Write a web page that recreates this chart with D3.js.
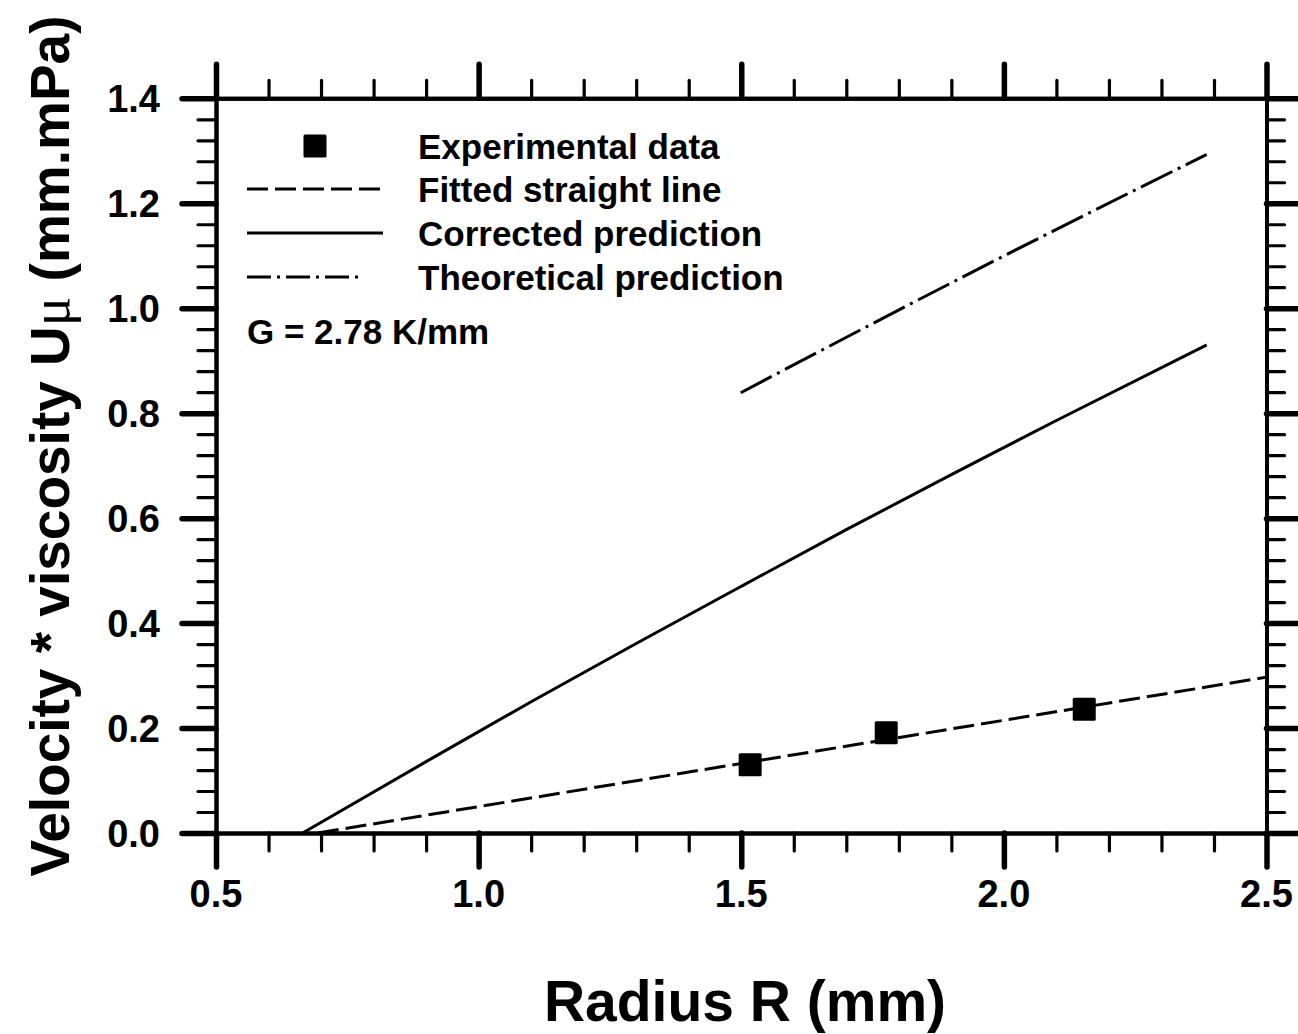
<!DOCTYPE html>
<html>
<head>
<meta charset="utf-8">
<script src="https://cdn.jsdelivr.net/npm/d3@7"></script>
<style>
  html, body { margin: 0; padding: 0; background: #fff; }
  svg { display: block; }
  text { font-family: "Liberation Sans", Arial, sans-serif; font-weight: bold; fill: #000; }
</style>
</head>
<body>
<svg id="chart" width="1298" height="1034"></svg>
<script>
// Radius values (mm) and velocity*viscosity values (mm.mPa)
const expR = [1.517, 1.776, 2.153];
const expU = [0.130, 0.191, 0.236];

const fitR = [0.694, 2.5];
const fitU = [0.0, 0.297];

const corrR = [0.665, 0.9, 1.1, 1.3, 1.5, 1.7, 1.9, 2.1, 2.386];
const corrU = [0.0, 0.136, 0.250, 0.361, 0.470, 0.578, 0.683, 0.786, 0.930];

const theoR = [1.499, 1.991, 2.386];
const theoU = [0.839, 1.095, 1.293];

const xTicks = [0.5, 1.0, 1.5, 2.0, 2.5];
const xTickLabels = ["0.5", "1.0", "1.5", "2.0", "2.5"];
const yTicks = [0.0, 0.2, 0.4, 0.6, 0.8, 1.0, 1.2, 1.4];
const yTickLabels = ["0.0", "0.2", "0.4", "0.6", "0.8", "1.0", "1.2", "1.4"];

const legendLabels = ["Experimental data", "Fitted straight line", "Corrected prediction", "Theoretical prediction"];
const noteText = "G = 2.78 K/mm";

const svg = d3.select("#chart");
const L = 216, R = 1266.5, T = 98.3, B = 833;

const x = d3.scaleLinear().domain([0.5, 2.5]).range([L, R]);
const y = d3.scaleLinear().domain([0, 1.4]).range([B, T]);

const xMinor = d3.range(0.5, 2.5001, 0.1).map(v => +v.toFixed(2));
const yMinor = d3.range(0, 1.4001, 0.04).map(v => +v.toFixed(2));

const MAJ = 34, MIN = 18;

function styleAxis(g, w) {
  g.selectAll("text").remove();
  g.select(".domain").attr("stroke", "#000").attr("stroke-width", 4);
  g.selectAll(".tick line").attr("stroke", "#000").attr("stroke-width", w).attr("stroke-linecap", "round");
}

// minor ticks on all four sides
svg.append("g").attr("transform", `translate(0,${B})`)
  .call(d3.axisBottom(x).tickValues(xMinor).tickSize(MIN).tickSizeOuter(0)).call(g => styleAxis(g, 3.2));
svg.append("g").attr("transform", `translate(0,${T})`)
  .call(d3.axisTop(x).tickValues(xMinor).tickSize(MIN).tickSizeOuter(0)).call(g => styleAxis(g, 3.2));
svg.append("g").attr("transform", `translate(${L},0)`)
  .call(d3.axisLeft(y).tickValues(yMinor).tickSize(MIN).tickSizeOuter(0)).call(g => styleAxis(g, 3.2));
svg.append("g").attr("transform", `translate(${R},0)`)
  .call(d3.axisRight(y).tickValues(yMinor).tickSize(MIN).tickSizeOuter(0)).call(g => styleAxis(g, 3.2));

// major ticks on all four sides
svg.append("g").attr("transform", `translate(0,${B})`)
  .call(d3.axisBottom(x).tickValues(xTicks).tickSize(MAJ).tickSizeOuter(0)).call(g => styleAxis(g, 5.5));
svg.append("g").attr("transform", `translate(0,${T})`)
  .call(d3.axisTop(x).tickValues(xTicks).tickSize(MAJ).tickSizeOuter(0)).call(g => styleAxis(g, 5.5));
svg.append("g").attr("transform", `translate(${L},0)`)
  .call(d3.axisLeft(y).tickValues(yTicks).tickSize(MAJ).tickSizeOuter(0)).call(g => styleAxis(g, 5.5));
svg.append("g").attr("transform", `translate(${R},0)`)
  .call(d3.axisRight(y).tickValues(yTicks).tickSize(MAJ).tickSizeOuter(0)).call(g => styleAxis(g, 5.5));

// tick labels
svg.append("g").selectAll("text").data(yTicks).join("text")
  .attr("x", 160).attr("y", d => y(d) + 13.5)
  .attr("text-anchor", "end").attr("font-size", 38)
  .text((d, i) => yTickLabels[i]);
svg.append("g").selectAll("text").data(xTicks).join("text")
  .attr("x", d => x(d)).attr("y", 907)
  .attr("text-anchor", "middle").attr("font-size", 38)
  .text((d, i) => xTickLabels[i]);

// axis titles
svg.append("text")
  .attr("x", 745).attr("y", 1021)
  .attr("text-anchor", "middle").attr("font-size", 57)
  .text("Radius R (mm)");

const yt = svg.append("text")
  .attr("transform", "translate(69,446) rotate(-90)")
  .attr("text-anchor", "middle").attr("font-size", 55);
yt.append("tspan").text("Velocity * viscosity U");
yt.append("tspan").attr("font-family", "'Liberation Serif', 'DejaVu Serif', serif")
  .attr("font-weight", "normal").text("\u03bc");
yt.append("tspan").text(" (mm.mPa)");

// data curves
const line = d3.line().x(d => x(d[0])).y(d => y(d[1]));
const plot = svg.append("g").attr("fill", "none").attr("stroke", "#000").attr("stroke-width", 3);

plot.append("path").datum(fitR.map((r, i) => [r, fitU[i]]))
  .attr("d", line).attr("stroke-dasharray", "21,7");
plot.append("path").datum(corrR.map((r, i) => [r, corrU[i]]))
  .attr("d", line.curve(d3.curveMonotoneX));
plot.append("path").datum(theoR.map((r, i) => [r, theoU[i]]))
  .attr("d", line.curve(d3.curveMonotoneX)).attr("stroke-dasharray", "35,6,3,6");

const SQ = 23;
svg.append("g").selectAll("rect").data(expR.map((r, i) => [r, expU[i]])).join("rect")
  .attr("x", d => x(d[0]) - SQ / 2).attr("y", d => y(d[1]) - SQ / 2)
  .attr("width", SQ).attr("height", SQ).attr("rx", 1.5).attr("fill", "#000");

// legend
const lg = svg.append("g");
const rows = [146, 189, 233, 277];
lg.append("rect").attr("x", 315 - SQ / 2).attr("y", rows[0] - SQ / 2)
  .attr("width", SQ).attr("height", SQ).attr("rx", 1.5).attr("fill", "#000");
lg.append("line").attr("x1", 247).attr("x2", 383).attr("y1", rows[1]).attr("y2", rows[1])
  .attr("stroke", "#000").attr("stroke-width", 3).attr("stroke-dasharray", "21,7");
lg.append("line").attr("x1", 247).attr("x2", 383).attr("y1", rows[2]).attr("y2", rows[2])
  .attr("stroke", "#000").attr("stroke-width", 3);
lg.append("line").attr("x1", 247).attr("x2", 362).attr("y1", rows[3]).attr("y2", rows[3])
  .attr("stroke", "#000").attr("stroke-width", 3).attr("stroke-dasharray", "24,6,3,6");

lg.selectAll("text.lab").data(legendLabels).join("text").attr("class", "lab")
  .attr("x", 418).attr("y", (d, i) => rows[i] + 12.5)
  .attr("font-size", 35).text(d => d);

svg.append("text").attr("x", 247).attr("y", 344)
  .attr("font-size", 35).text(noteText);
</script>
</body>
</html>
